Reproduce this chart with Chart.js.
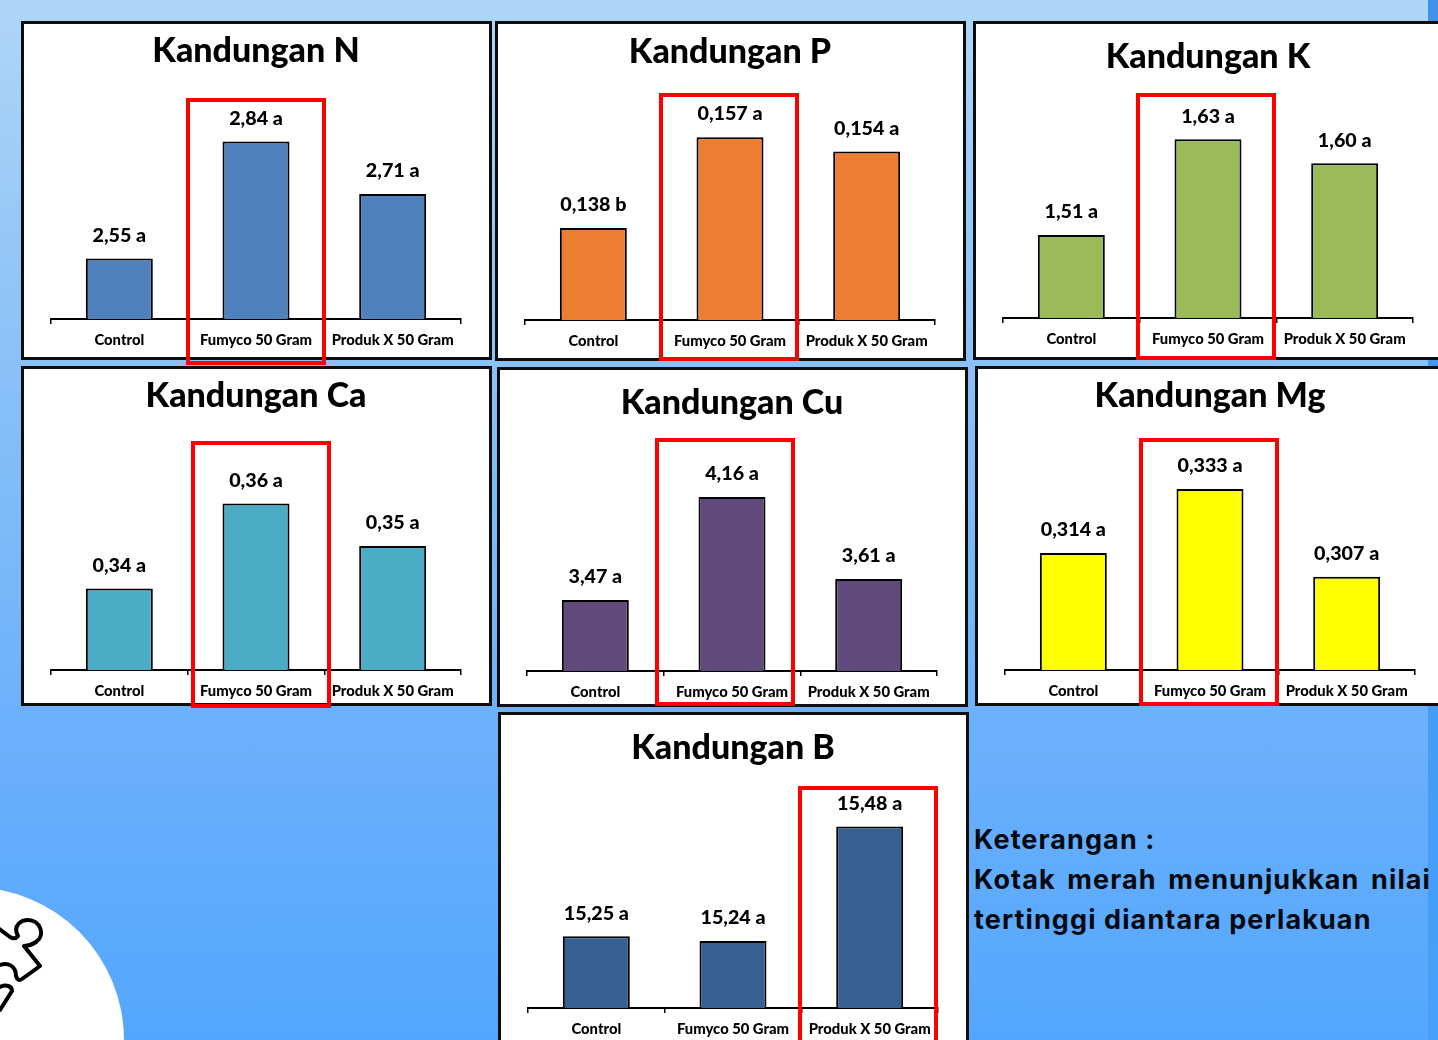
<!DOCTYPE html>
<html>
<head>
<meta charset="utf-8">
<title>Kandungan</title>
<script src="https://cdn.jsdelivr.net/npm/chart.js@4"></script>
<style>
html, body { margin: 0; padding: 0; }
body {
  width: 1438px; height: 1040px; overflow: hidden; position: relative;
  background: linear-gradient(180deg, #afd6f8 0px, #8fc4f6 300px, #6cb1fb 720px, #53a6fe 1040px);
}
.strip { position: absolute; left: 1428px; top: 0; width: 10px; height: 1040px;
  background: linear-gradient(180deg, #3f93e6, #47a0fb); }
.panel { position: absolute; box-sizing: border-box; border: 3px solid #0d0d0d; background: #fff; }
.panel canvas { display: block; }
.redbox { position: absolute; box-sizing: border-box; border: 4px solid #fe0000; pointer-events: none; }
.blob { position: absolute; border-radius: 50%; background: #fff; left: -182px; top: 887px; width: 306px; height: 306px; }
.note { position: absolute; left: 974px; width: 457px; font: 700 27px/40px Inter, sans-serif; letter-spacing: 1.1px; color: #06090f; white-space: nowrap; }
.just { text-align: justify; text-align-last: justify; white-space: normal; }
svg.puzzle { position: absolute; left: 0; top: 900px; overflow: visible; }
</style>
</head>
<body>
<div class="strip"></div>
<div class="blob"></div>
<svg class="puzzle" width="60" height="130" viewBox="0 900 60 130" fill="none" stroke="#000" stroke-width="4" stroke-linejoin="round" stroke-linecap="round">
  <path d="M-2 928 L10 937 Q15 940 18 936 C12 925 22 920 28 920 C40 920 46 935 36 942 Q30 946 24 946 L40 966 L22 979 Q18 982 16 976 C16 966 8 962 0 965"/>
  <path d="M0 987 C6 984 12 986 12 991 L0 1010"/>
</svg>
<div class="note" style="top:820px">Keterangan :</div>
<div class="note just" style="top:860px">Kotak merah menunjukkan nilai</div>
<div class="note" style="top:900px">tertinggi diantara perlakuan</div>
<script>
var categories = ["Control", "Fumyco 50 Gram", "Produk X 50 Gram"];

var nValues = [2.55, 2.84, 2.71];
var pValues = [0.138, 0.157, 0.154];
var kValues = [1.51, 1.63, 1.60];
var caValues = [0.34, 0.36, 0.35];
var cuValues = [3.47, 4.16, 3.61];
var mgValues = [0.314, 0.333, 0.307];
var bValues = [15.25, 15.24, 15.48];

var nLetters = ["a", "a", "a"];
var pLetters = ["b", "a", "a"];
var kLetters = ["a", "a", "a"];
var caLetters = ["a", "a", "a"];
var cuLetters = ["a", "a", "a"];
var mgLetters = ["a", "a", "a"];
var bLetters = ["a", "a", "a"];

var PLOT_H = 225;

// one entry per box: outer frame, title centre, axis line, value range, red frame
var panels = [
  { title: "Kandungan N", values: nValues, letters: nLetters, digits: 2, color: "#4f81bd", x: 21, y: 21, w: 471, h: 339, titleY: 51, base: 319, min: 2.4, max: 2.958, red: [186, 98, 140, 267] },
  { title: "Kandungan P", values: pValues, letters: pLetters, digits: 3, color: "#ed7d31", x: 495, y: 21, w: 471, h: 340, titleY: 52, base: 320, min: 0.1188, max: 0.1658, red: [659, 93, 140, 268] },
  { title: "Kandungan K", values: kValues, letters: kLetters, digits: 2, color: "#9bbb59", x: 973, y: 21, w: 471, h: 339, titleY: 57, base: 318, min: 1.4063, max: 1.6878, red: [1136, 93, 140, 267] },
  { title: "Kandungan Ca", values: caValues, letters: caLetters, digits: 2, color: "#4bacc6", x: 21, y: 366, w: 471, h: 340, titleY: 396, base: 670, min: 0.3208, max: 0.3738, red: [191, 441, 140, 267] },
  { title: "Kandungan Cu", values: cuValues, letters: cuLetters, digits: 2, color: "#604a7b", x: 497, y: 367, w: 471, h: 340, titleY: 403, base: 671, min: 2.993, max: 4.503, red: [655, 438, 140, 268] },
  { title: "Kandungan Mg", values: mgValues, letters: mgLetters, digits: 3, color: "#ffff00", x: 975, y: 366, w: 471, h: 340, titleY: 396, base: 670, min: 0.2793, max: 0.3461, red: [1139, 438, 140, 268] },
  { title: "Kandungan B", values: bValues, letters: bLetters, digits: 2, color: "#376092", x: 498, y: 712, w: 471, h: 341, titleY: 748, base: 1008, min: 15.10, max: 15.571, red: [798, 786, 140, 270] }
];

// text above each bar, "2,84 a"
var valueLabels = {
  id: "valueLabels",
  afterDatasetsDraw: function(chart, args, opts) {
    var ctx = chart.ctx;
    ctx.save();
    ctx.font = "900 19.7px Lato, sans-serif";
    ctx.fillStyle = "#000";
    ctx.textAlign = "center";
    ctx.textBaseline = "middle";
    chart.getDatasetMeta(0).data.forEach(function(bar, i) {
      var txt = opts.values[i].toFixed(opts.digits).replace(".", ",") + " " + opts.letters[i];
      ctx.fillText(txt, bar.x, bar.y - 23);
    });
    ctx.restore();
  }
};

panels.forEach(function(p) {
  var box = document.createElement("div");
  box.className = "panel";
  box.style.cssText = "left:" + p.x + "px;top:" + p.y + "px;width:" + p.w + "px;height:" + p.h + "px";
  var cv = document.createElement("canvas");
  cv.width = p.w - 6;
  cv.height = p.h - 6;
  box.appendChild(cv);
  document.body.appendChild(box);

  var canvasTop = p.y + 3;
  var plotTop = p.base - PLOT_H - canvasTop;
  var titleTop = p.titleY - canvasTop - 20;
  var axisH = canvasTop + cv.height - p.base;

  new Chart(cv.getContext("2d"), {
    type: "bar",
    data: {
      labels: categories,
      datasets: [{
        data: p.values,
        backgroundColor: p.color,
        borderColor: "#000",
        borderWidth: 2,
        categoryPercentage: 1,
        barPercentage: 0.49
      }]
    },
    plugins: [valueLabels],
    options: {
      responsive: false,
      animation: false,
      layout: { padding: { left: 27, right: 28, top: 0, bottom: 0 } },
      plugins: {
        legend: { display: false },
        tooltip: { enabled: false },
        valueLabels: { values: p.values, letters: p.letters, digits: p.digits },
        title: {
          display: true,
          text: p.title,
          color: "#000",
          font: { family: "Lato, sans-serif", size: 34, weight: "900", lineHeight: 1.2 },
          padding: { top: titleTop, bottom: plotTop - titleTop - 40.8 }
        }
      },
      scales: {
        y: { display: false, min: p.min, max: p.max },
        x: {
          afterFit: function(s) { s.height = axisH; },
          border: { display: true, color: "#000", width: 2 },
          grid: { drawOnChartArea: false, drawTicks: true, tickLength: 5, color: "#000", lineWidth: 1.5 },
          ticks: { color: "#000", padding: 7, maxRotation: 0, autoSkip: false, font: { family: "Lato, sans-serif", size: 14.8, weight: "900" } }
        }
      }
    }
  });
});

// red frames sit above the boxes and run over their edges
panels.forEach(function(p) {
  var r = document.createElement("div");
  r.className = "redbox";
  r.style.cssText = "left:" + p.red[0] + "px;top:" + p.red[1] + "px;width:" + p.red[2] + "px;height:" + p.red[3] + "px";
  document.body.appendChild(r);
});
</script>
</body>
</html>
